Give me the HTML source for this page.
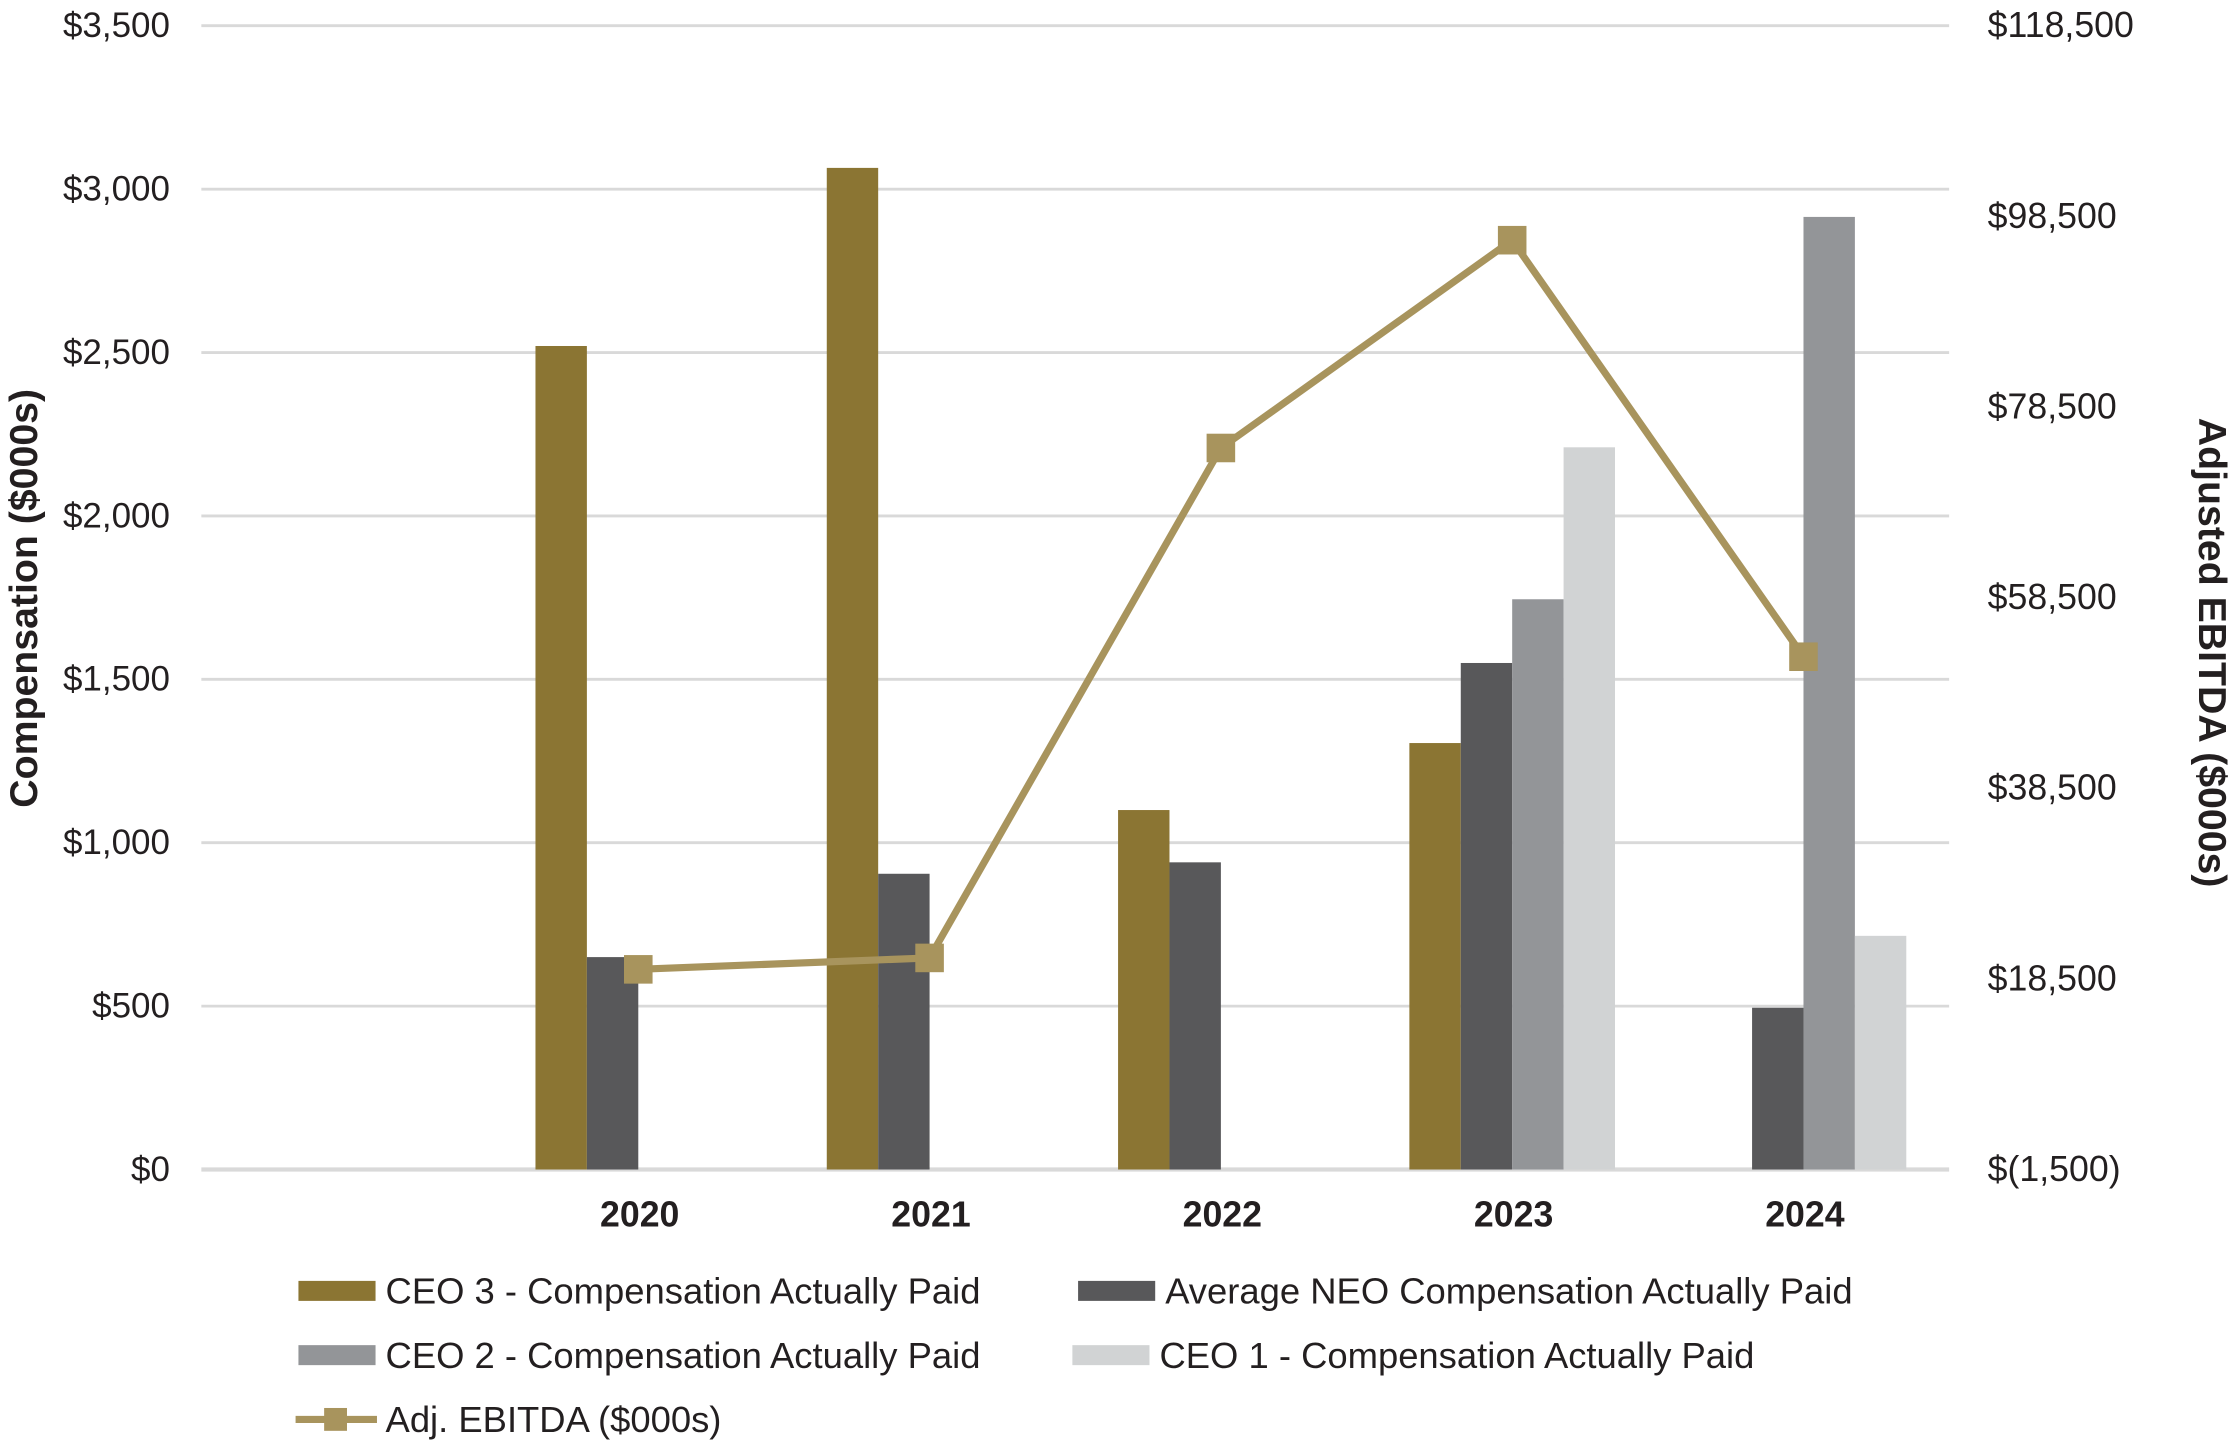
<!DOCTYPE html>
<html><head><meta charset="utf-8"><style>
html,body{margin:0;padding:0;background:#fff;}
svg{display:block;font-family:"Liberation Sans",Arial,sans-serif;}
</style></head><body>
<svg id="chart" width="2239" height="1444" viewBox="0 0 1568 1011.2" xmlns="http://www.w3.org/2000/svg">
<g id="grid"></g><g id="bars"></g><g id="line"></g><g id="labels"></g>
<text transform="translate(26,419) rotate(-90)" text-anchor="middle" font-size="27.5" font-weight="bold" fill="#231f20">Compensation ($000s)</text>
<text transform="translate(1540,457) rotate(90)" text-anchor="middle" font-size="27.5" font-weight="bold" fill="#231f20">Adjusted EBITDA  ($000s)</text>
<g font-size="25.5" fill="#231f20">
<rect x="209" y="897" width="54" height="14" fill="#8b7533"/>
<text x="270" y="913">CEO 3 - Compensation Actually Paid</text>
<rect x="755" y="897" width="54" height="14" fill="#58585a"/>
<text x="816" y="913">Average NEO Compensation Actually Paid</text>
<rect x="209" y="942" width="54" height="14" fill="#939598"/>
<text x="270" y="958">CEO 2 - Compensation Actually Paid</text>
<rect x="751" y="942" width="54" height="14" fill="#d1d3d4"/>
<text x="812" y="958">CEO 1 - Compensation Actually Paid</text>
<line x1="207" y1="994" x2="264" y2="994" stroke="#a8945d" stroke-width="5"/>
<rect x="227" y="986" width="16" height="16" fill="#a8945d"/>
<text x="270" y="1003">Adj. EBITDA ($000s)</text>
</g>
</svg>
<script>
const categories = ["", "2020", "2021", "2022", "2023", "2024"];
const ceo3 = [null, 2520, 3065, 1100, 1305, null];
const neo = [null, 650, 905, 940, 1550, 495];
const ceo2 = [null, null, null, null, 1745, 2915];
const ceo1 = [null, null, null, null, 2210, 715];
const ebitda = [null, 19500, 20700, 74200, 96000, 52300];
const leftTicks = [0, 500, 1000, 1500, 2000, 2500, 3000, 3500];
const leftTickLabels = ["$0", "$500", "$1,000", "$1,500", "$2,000", "$2,500", "$3,000", "$3,500"];
const rightTicks = [-1500, 18500, 38500, 58500, 78500, 98500, 118500];
const rightTickLabels = ["$(1,500)", "$18,500", "$38,500", "$58,500", "$78,500", "$98,500", "$118,500"];

const NS = "http://www.w3.org/2000/svg";
const X0 = 141, X1 = 1365, Y0 = 819, Y1 = 18;
const band = (X1 - X0) / categories.length;
const xc = i => X0 + band * (i + 0.5);
const yL = v => Y0 - (v - 0) / (3500 - 0) * (Y0 - Y1);
const yR = v => Y0 - (v + 1500) / (118500 + 1500) * (Y0 - Y1);
function mk(tag, attrs, parent) { const e = document.createElementNS(NS, tag); for (const k in attrs) e.setAttribute(k, attrs[k]); parent.appendChild(e); return e; }
const grid = document.getElementById('grid'), bars = document.getElementById('bars'), lineG = document.getElementById('line'), labels = document.getElementById('labels');

leftTicks.forEach((t, i) => {
  const l = mk('line', { x1: X0, x2: X1, y1: yL(t), y2: yL(t), stroke: '#d9d9d9', 'stroke-width': i === 0 ? 3 : 2 }, grid);
  
  
  const tx = mk('text', { x: 119, y: yL(t) + 8, 'text-anchor': 'end', 'font-size': 24.5, fill: '#231f20' }, labels);
  tx.textContent = leftTickLabels[i];
  
  
});
rightTicks.forEach((t, i) => {
  const tx = mk('text', { x: 1392, y: yR(t) + 8, 'font-size': 25, fill: '#231f20' }, labels);
  tx.textContent = rightTickLabels[i];
  
  
});
categories.forEach((c, i) => {
  if (!c) return;
  const tx = mk('text', { x: xc(i) + 1, y: 859, 'text-anchor': 'middle', 'font-size': 25, 'font-weight': 'bold', fill: '#231f20' }, labels);
  tx.textContent = c;
  
  
});
const series = [[ceo3, '#8b7533', 'ceo3'], [neo, '#58585a', 'neo'], [ceo2, '#939598', 'ceo2'], [ceo1, '#d1d3d4', 'ceo1']];
const bw = 36;
series.forEach((s, si) => {
  s[0].forEach((v, i) => {
    if (v == null) return;
    const x = xc(i) - 2 * bw + si * bw;
    const r = mk('rect', { x: x, y: yL(v), width: bw, height: Y0 - yL(v), fill: s[1] }, bars);
    
    
  });
});
const pts = [];
ebitda.forEach((v, i) => { if (v != null) pts.push([xc(i), yR(v)]); });
const pl = mk('polyline', { points: pts.map(p => p.join(',')).join(' '), fill: 'none', stroke: '#a8945d', 'stroke-width': 5, 'stroke-linejoin': 'round' }, lineG);


pts.forEach(p => {
  const m = mk('rect', { x: p[0] - 10, y: p[1] - 10, width: 20, height: 20, fill: '#a8945d' }, lineG);
  
  
});
</script>
</body></html>
